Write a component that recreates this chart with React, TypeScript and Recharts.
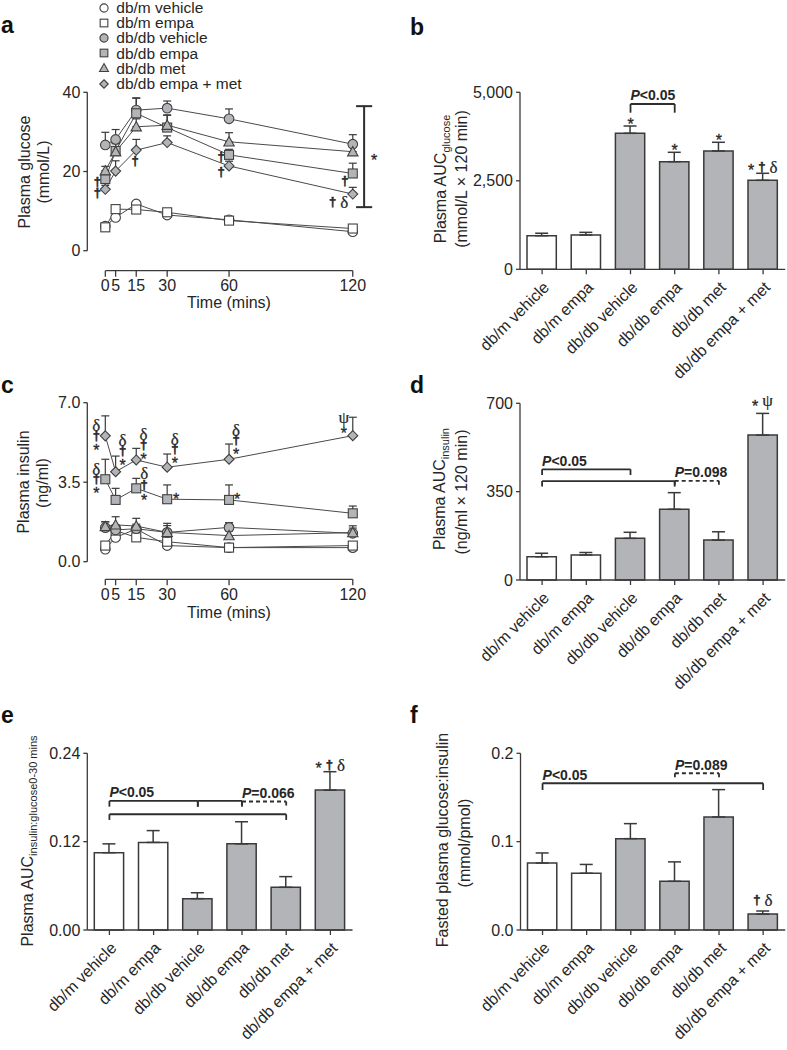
import React from 'react';
import {
  LineChart,
  Line,
  BarChart,
  Bar,
  Cell,
  XAxis,
  YAxis,
  ErrorBar,
  ReferenceLine,
  ReferenceDot,
  Legend,
} from 'recharts';

const FONT = '"Liberation Sans", Arial, Helvetica, sans-serif';
const SERIF = '"Liberation Serif", "DejaVu Serif", "Times New Roman", serif';
const INK = '#3a3a3a';
const TEXT = '#262626';
const GREY = '#b3b4b8';

// time course (panels a, c)
const times = [0, 5, 15, 30, 60, 120];

const gluDbmVeh = [6.2, 8.4, 11.8, 9.0, 7.8, 4.8];
const gluDbmEmpa = [5.9, 10.5, 10.4, 9.7, 7.6, 5.6];
const gluDbdbVeh = [26.7, 28.1, 35.5, 36.0, 33.3, 26.9];
const gluDbdbEmpa = [18.1, 25.2, 34.7, 31.1, 24.2, 19.5];
const gluDbdbMet = [20.2, 25.0, 31.3, 31.7, 27.5, 25.0];
const gluDbdbEmpaMet = [15.5, 20.1, 25.4, 27.3, 21.4, 14.3];

const gluDbmVehSem = [0.4, 0.5, 0.5, 0.4, 0.4, 0.3];
const gluDbmEmpaSem = [0.4, 0.5, 0.5, 0.5, 0.4, 0.4];
const gluDbdbVehSem = [3.2, 2.5, 3.0, 1.8, 2.5, 2.4];
const gluDbdbEmpaSem = [1.5, 2.0, 3.9, 3.2, 1.4, 2.6];
const gluDbdbMetSem = [1.1, 2.0, 2.0, 2.5, 2.3, 1.2];
const gluDbdbEmpaMetSem = [1.0, 2.6, 2.7, 1.7, 1.2, 1.7];

const insDbmVeh = [0.55, 1.07, 1.44, 0.71, 0.62, 0.62];
const insDbmEmpa = [0.71, 1.37, 1.07, 0.88, 0.62, 0.71];
const insDbdbVeh = [1.5, 1.4, 1.45, 1.29, 1.51, 1.25];
const insDbdbEmpa = [3.63, 2.72, 3.23, 2.75, 2.72, 2.13];
const insDbdbMet = [1.55, 1.62, 1.57, 1.29, 1.15, 1.28];
const insDbdbEmpaMet = [5.54, 3.96, 4.48, 4.16, 4.51, 5.55];

const insDbmVehSem = [0.08, 0.1, 0.1, 0.08, 0.05, 0.05];
const insDbmEmpaSem = [0.1, 0.15, 0.1, 0.1, 0.05, 0.05];
const insDbdbVehSem = [0.26, 0.2, 0.2, 0.4, 0.21, 0.33];
const insDbdbEmpaSem = [0.88, 0.51, 0.44, 0.63, 0.66, 0.32];
const insDbdbMetSem = [0.2, 0.36, 0.34, 0.3, 0.2, 0.2];
const insDbdbEmpaMetSem = [0.88, 0.69, 0.51, 0.58, 0.67, 0.81];

// group bars (panels b, d, e, f)
const groups = ['db/m vehicle', 'db/m empa', 'db/db vehicle', 'db/db empa', 'db/db met', 'db/db empa + met'];

const aucGlucose = [949, 969, 3842, 3040, 3342, 2514];
const aucGlucoseSem = [70, 75, 206, 265, 246, 198];
const aucInsulin = [92, 99, 165, 280, 158, 574];
const aucInsulinSem = [14, 10, 24, 66, 33, 86];
const aucRatio = [0.105, 0.119, 0.0426, 0.117, 0.058, 0.19];
const aucRatioSem = [0.012, 0.016, 0.008, 0.03, 0.0145, 0.025];
const fastedRatio = [0.0758, 0.0642, 0.1034, 0.0551, 0.1279, 0.0181];
const fastedRatioSem = [0.0114, 0.01, 0.017, 0.022, 0.031, 0.0034];

const SERIES = [
  { key: 'dbmVeh', name: 'db/m vehicle', shape: 'circle', fill: '#fff' },
  { key: 'dbmEmpa', name: 'db/m empa', shape: 'square', fill: '#fff' },
  { key: 'dbdbVeh', name: 'db/db vehicle', shape: 'circle', fill: GREY },
  { key: 'dbdbEmpa', name: 'db/db empa', shape: 'square', fill: GREY },
  { key: 'dbdbMet', name: 'db/db met', shape: 'triangle', fill: GREY },
  { key: 'dbdbEmpaMet', name: 'db/db empa + met', shape: 'diamond', fill: GREY },
];

function timeTable(means: number[][], sems: number[][]) {
  return times.map((t, i) => {
    const row: any = { t };
    SERIES.forEach((s, j) => {
      row[s.key] = means[j][i];
      row[s.key + 'Err'] = [0, sems[j][i]];
    });
    return row;
  });
}

function barTable(vals: number[], sems: number[]) {
  return groups.map((g, i) => ({ group: g, value: vals[i], err: [0, sems[i]] }));
}

const glucoseRows = timeTable(
  [gluDbmVeh, gluDbmEmpa, gluDbdbVeh, gluDbdbEmpa, gluDbdbMet, gluDbdbEmpaMet],
  [gluDbmVehSem, gluDbmEmpaSem, gluDbdbVehSem, gluDbdbEmpaSem, gluDbdbMetSem, gluDbdbEmpaMetSem]
);
const insulinRows = timeTable(
  [insDbmVeh, insDbmEmpa, insDbdbVeh, insDbdbEmpa, insDbdbMet, insDbdbEmpaMet],
  [insDbmVehSem, insDbmEmpaSem, insDbdbVehSem, insDbdbEmpaSem, insDbdbMetSem, insDbdbEmpaMetSem]
);
const rowsB = barTable(aucGlucose, aucGlucoseSem);
const rowsD = barTable(aucInsulin, aucInsulinSem);
const rowsE = barTable(aucRatio, aucRatioSem);
const rowsF = barTable(fastedRatio, fastedRatioSem);

// axis extents of the offset (GraphPad-style) time axes
const X_MIN = -8.73;
const X_MAX = 133.2;
const G_MIN = -5.05;
const I_MIN = -0.775;

const Marker = ({ cx, cy, shape, fill, k = 1 }: any) => {
  if (cx == null || cy == null) return null;
  const common = { fill, stroke: '#404040', strokeWidth: 1.1 };
  if (shape === 'circle') return <circle cx={cx} cy={cy} r={4.8 * k} {...common} />;
  if (shape === 'square') {
    const h = 4.5 * k;
    return <rect x={cx - h} y={cy - h} width={2 * h} height={2 * h} {...common} />;
  }
  if (shape === 'triangle') {
    const h = 5.2 * k;
    return <polygon points={`${cx},${cy - h} ${cx + h},${cy + h * 0.8} ${cx - h},${cy + h * 0.8}`} {...common} />;
  }
  const h = 5 * k;
  return <polygon points={`${cx},${cy - h} ${cx + h},${cy} ${cx},${cy + h} ${cx - h},${cy}`} {...common} />;
};

const GLYPH: any = {
  '*': { family: FONT, size: 16, weight: 400, lift: 0.58, w: 0.39, sw: 0.3 },
  '†': { family: FONT, size: 13, weight: 700, lift: 0.3, w: 0.556, sw: 0.5 },
  'δ': { family: SERIF, size: 17, weight: 400, lift: 0.35, w: 0.5, sw: 0.2 },
  'ψ': { family: SERIF, size: 17, weight: 400, lift: 0.24, w: 0.69, sw: 0.2 },
};

// one <text> per annotation group, one <tspan> per symbol
const Glyphs = ({ cx, cy, glyphs, dir = 'row', gap = 4 }: any) => {
  const specs = glyphs.map((g: string) => GLYPH[g]);
  const widths = specs.map((s: any) => s.w * s.size);
  const total = widths.reduce((a: number, b: number) => a + b, 0) + gap * (glyphs.length - 1);
  const mid = (glyphs.length - 1) / 2;
  let x = cx - total / 2;
  return (
    <text fill={TEXT} stroke={TEXT} textAnchor={dir === 'col' ? 'middle' : 'start'}>
      {glyphs.map((g: string, i: number) => {
        const s = specs[i];
        const px = dir === 'col' ? cx : x;
        const py = (dir === 'col' ? cy + (i - mid) * gap : cy) + s.lift * s.size;
        if (dir !== 'col') x += widths[i] + gap;
        return (
          <tspan key={i} x={px} y={py} fontFamily={s.family} fontSize={s.size} fontWeight={s.weight} strokeWidth={s.sw}>
            {g}
          </tspan>
        );
      })}
    </text>
  );
};

const mark = (id: string, x: any, y: number, glyphs: string[], dx: number, dy: number, dir = 'row', gap = 4) => (
  <ReferenceDot key={id} x={x} y={y} r={0} ifOverflow="visible"
    shape={(p: any) => <Glyphs cx={p.cx + dx} cy={p.cy + dy} glyphs={glyphs} dir={dir} gap={gap} />} />
);

const BracketLabel = (p: any) => {
  const vb = p.viewBox || p;
  const txt: string = p.text;
  return (
    <text x={vb.x} y={vb.y - 3.5} fontFamily={FONT} fontSize={14} fontWeight={700} fill={TEXT}>
      <tspan fontStyle="italic">{txt.slice(0, 1)}</tspan>
      {txt.slice(1)}
    </text>
  );
};

const bracket = (id: string, a: number, b: number, y: number, tip: number, label?: string, dashed = false) => {
  const line = { stroke: '#2e2e2e', strokeWidth: 1.8, strokeDasharray: dashed ? '4 3' : undefined, ifOverflow: 'visible' as const };
  return [
    <ReferenceLine key={id + 'h'} segment={[{ x: groups[a], y }, { x: groups[b], y }]} {...line}
      label={label ? (p: any) => <BracketLabel {...p} text={label} /> : undefined} />,
    <ReferenceLine key={id + 'l'} segment={[{ x: groups[a], y }, { x: groups[a], y: tip }]} {...line} />,
    <ReferenceLine key={id + 'r'} segment={[{ x: groups[b], y }, { x: groups[b], y: tip }]} {...line} />,
  ];
};

const RotTick = ({ x, y, payload }: any) => (
  <text x={x} y={y} dy="0.71em" transform={`rotate(-45 ${x} ${y})`} textAnchor="end"
    fill={TEXT} fontSize={16} fontFamily={FONT}>{payload.value}</text>
);

const tickStyle = { fill: TEXT, fontSize: 16, fontFamily: FONT };
const axisLine = { stroke: INK, strokeWidth: 1.3 };

const SeriesLegend = () => (
  <div style={{ fontFamily: FONT, fontSize: 15.5, color: TEXT }}>
    {SERIES.map((s) => (
      <div key={s.key} style={{ display: 'flex', alignItems: 'center', height: 15.2 }}>
        <svg width={16} height={14}>
          <Marker cx={7} cy={7} shape={s.shape} fill={s.fill} k={0.85} />
        </svg>
        <span style={{ marginLeft: 3, lineHeight: '15px' }}>{s.name}</span>
      </div>
    ))}
  </div>
);

const VLabel = ({ x, y, children }: any) => (
  <div style={{
    position: 'absolute', left: x, top: y, transform: 'translate(-50%, -50%) rotate(-90deg)',
    whiteSpace: 'nowrap', fontFamily: FONT, fontSize: 16, color: TEXT, lineHeight: '16px',
  }}>{children}</div>
);

const HLabel = ({ x, y, children }: any) => (
  <div style={{
    position: 'absolute', left: x, top: y, transform: 'translate(-50%, -50%)',
    whiteSpace: 'nowrap', fontFamily: FONT, fontSize: 16, color: TEXT, lineHeight: '16px',
  }}>{children}</div>
);

const Letter = ({ x, y, children }: any) => (
  <div style={{ position: 'absolute', left: x, top: y, fontFamily: FONT, fontWeight: 700, fontSize: 23, lineHeight: '22px', color: '#111' }}>
    {children}
  </div>
);

const Sub = ({ children }: any) => (
  <span style={{ fontSize: 11, position: 'relative', top: 4 }}>{children}</span>
);

const timeLines = () =>
  SERIES.map((s) => (
    <Line key={s.key} dataKey={s.key} name={s.name} stroke="#4a4a4a" strokeWidth={1} isAnimationActive={false}
      activeDot={false}
      dot={(p: any) => <Marker key={`${s.key}-${p.index}`} cx={p.cx} cy={p.cy} shape={s.shape} fill={s.fill} />}>
      <ErrorBar dataKey={s.key + 'Err'} width={4} stroke={INK} strokeWidth={1.2} direction="y" isAnimationActive={false} />
    </Line>
  ));

const timeAxes = (yMin: number, yMax: number, yTicks: number[], fmt: (v: number) => string, xHeight: number) => [
  <XAxis key="x" dataKey="t" type="number" domain={[X_MIN, X_MAX]} ticks={times} interval={0} allowDataOverflow
    axisLine={false} tickLine={axisLine} tickSize={6} tickMargin={3} height={xHeight} tick={tickStyle} />,
  <YAxis key="y" type="number" domain={[yMin, yMax]} ticks={yTicks} interval={0} allowDataOverflow width={87.3}
    axisLine={false} tickLine={axisLine} tickSize={4} tickMargin={3} tick={tickStyle} tickFormatter={fmt} />,
  <ReferenceLine key="ya" segment={[{ x: X_MIN, y: 0 }, { x: X_MIN, y: yMax }]} stroke={INK} strokeWidth={1.3} ifOverflow="visible" />,
  <ReferenceLine key="xa" segment={[{ x: 0, y: yMin }, { x: 120, y: yMin }]} stroke={INK} strokeWidth={1.3} ifOverflow="visible" />,
];

const barSeries = (rows: any[]) => (
  <Bar dataKey="value" barSize={29.3} stroke={INK} strokeWidth={1.5} isAnimationActive={false}>
    {rows.map((r, i) => <Cell key={r.group} fill={i < 2 ? '#ffffff' : GREY} />)}
    <ErrorBar dataKey="err" width={6.5} stroke={INK} strokeWidth={1.5} direction="y" isAnimationActive={false} />
  </Bar>
);

const barAxes = (yMax: number, fmt: (v: number) => string, yWidth: number, xHeight: number) => [
  <XAxis key="x" dataKey="group" type="category" interval={0} height={xHeight} axisLine={axisLine}
    tickLine={axisLine} tickSize={5} tickMargin={6} tick={<RotTick />} />,
  <YAxis key="y" type="number" domain={[0, yMax]} ticks={[0, yMax / 2, yMax]} interval={0} width={yWidth}
    axisLine={axisLine} tickLine={axisLine} tickSize={4} tickMargin={3} tick={tickStyle} tickFormatter={fmt} />,
];

const topOf = (rows: any[], i: number) => rows[i].value + rows[i].err[1];

export default function App() {
  return (
    <div style={{ position: 'absolute', left: 0, top: 0, width: 787, height: 1050, background: '#fff', overflow: 'hidden' }}>
      {/* a */}
      <div style={{ position: 'absolute', left: 0, top: 0 }}>
        <LineChart width={390} height={320} data={glucoseRows} margin={{ top: 92.3, right: 390 - 380, bottom: 0, left: 0 }}>
          {timeAxes(G_MIN, 40, [0, 20, 40], (v) => String(v), 320 - 270.7)}
          {timeLines()}
          <Legend layout="vertical" align="center" verticalAlign="middle" content={() => <SeriesLegend />}
            wrapperStyle={{ top: 0, left: 97.3, width: 180, height: 95 }} />
          {mark('a1', 0, gluDbdbEmpa[0], ['†'], -8, 3)}
          {mark('a2', 0, gluDbdbEmpaMet[0], ['†'], -8, 3.4)}
          {mark('a3', 15, gluDbdbEmpaMet[2], ['†'], -1, 11)}
          {mark('a4', 60, gluDbdbEmpa[4], ['†'], -8, 2)}
          {mark('a5', 60, gluDbdbEmpaMet[4], ['†'], -8, 6)}
          {mark('a6', 120, gluDbdbEmpa[5], ['†'], -8, 8)}
          {mark('a7', 120, gluDbdbEmpaMet[5], ['†', 'δ'], -14, 8)}
          <ReferenceLine segment={[{ x: 125.5, y: 11.0 }, { x: 125.5, y: 36.5 }]} stroke="#2e2e2e" strokeWidth={2} ifOverflow="visible" />
          <ReferenceLine segment={[{ x: 121.6, y: 36.5 }, { x: 129.4, y: 36.5 }]} stroke="#2e2e2e" strokeWidth={2} ifOverflow="visible" />
          <ReferenceLine segment={[{ x: 121.6, y: 11.0 }, { x: 129.4, y: 11.0 }]} stroke="#2e2e2e" strokeWidth={2} ifOverflow="visible" />
          {mark('a8', 125.5, 23.7, ['*'], 10, 0)}
        </LineChart>
      </div>

      {/* b */}
      <div style={{ position: 'absolute', left: 390, top: 0 }}>
        <BarChart width={397} height={400} data={rowsB} margin={{ top: 92.3, right: 1.8, bottom: 0, left: 0 }}>
          {barAxes(5000, (v) => v.toLocaleString('en-US'), 130, 400 - 269.3)}
          {barSeries(rowsB)}
          {bracket('b1', 2, 3, 4670, 4424, 'P<0.05')}
          {mark('b2', groups[2], topOf(rowsB, 2), ['*'], 0, -5.5)}
          {mark('b3', groups[3], topOf(rowsB, 3), ['*'], 0, -5.5)}
          {mark('b4', groups[4], topOf(rowsB, 4), ['*'], 0, -5.5)}
          {mark('b5', groups[5], topOf(rowsB, 5), ['*', '†', 'δ'], 0, -6.6)}
        </BarChart>
      </div>

      {/* c */}
      <div style={{ position: 'absolute', left: 0, top: 340 }}>
        <LineChart width={390} height={290} data={insulinRows} margin={{ top: 62.7, right: 390 - 380, bottom: 0, left: 0 }}>
          {timeAxes(I_MIN, 7, [0, 3.5, 7], (v) => v.toFixed(1), 290 - 239.3)}
          {timeLines()}
          {mark('c1', 0, insDbdbEmpaMet[0], ['δ', '†', '*'], -9, 0, 'col', 10.5)}
          {mark('c2', 5, insDbdbEmpaMet[1], ['δ', '†', '*'], 7, -21, 'col', 10.5)}
          {mark('c3', 15, insDbdbEmpaMet[2], ['δ', '†', '*'], 7.3, -15, 'col', 10.5)}
          {mark('c4', 30, insDbdbEmpaMet[3], ['δ', '†', '*'], 7.7, -18, 'col', 10.5)}
          {mark('c5', 60, insDbdbEmpaMet[4], ['δ', '†', '*'], 7, -19, 'col', 10.5)}
          {mark('c6', 120, insDbdbEmpaMet[5], ['ψ', '*'], -9, -11.5, 'col', 11)}
          {mark('c7', 0, insDbdbEmpa[0], ['δ', '†', '*'], -9, 0, 'col', 10.5)}
          {mark('c8', 15, insDbdbEmpa[2], ['δ', '†', '*'], 8, -3.5, 'col', 12)}
          {mark('c9', 30, insDbdbEmpa[3], ['*'], 9, -4)}
          {mark('c10', 60, insDbdbEmpa[4], ['*'], 8, -4)}
        </LineChart>
      </div>

      {/* d */}
      <div style={{ position: 'absolute', left: 390, top: 340 }}>
        <BarChart width={397} height={400} data={rowsD} margin={{ top: 63.3, right: 1.8, bottom: 0, left: 0 }}>
          {barAxes(700, (v) => String(v), 130, 400 - 240)}
          {barSeries(rowsD)}
          {bracket('d1', 0, 2, 438.6, 416, 'P<0.05')}
          {bracket('d2', 0, 3, 392, 370)}
          {bracket('d3', 3, 4, 393, 370, 'P=0.098', true)}
          {mark('d4', groups[5], topOf(rowsD, 5), ['*', 'ψ'], 0, -11)}
        </BarChart>
      </div>

      {/* e */}
      <div style={{ position: 'absolute', left: 0, top: 680 }}>
        <BarChart width={390} height={370} data={rowsE} margin={{ top: 73.3, right: 37.5, bottom: 0, left: 0 }}>
          {barAxes(0.24, (v) => v.toFixed(2), 87.3, 370 - 250)}
          {barSeries(rowsE)}
          {bracket('e1', 0, 2, 0.1753, 0.1675, 'P<0.05')}
          {bracket('e2', 2, 3, 0.1753, 0.1675)}
          {bracket('e3', 3, 4, 0.1745, 0.1675, 'P=0.066', true)}
          {bracket('e4', 0, 4, 0.1572, 0.1495)}
          {mark('e5', groups[5], topOf(rowsE, 5), ['*', '†', 'δ'], 0, -6.7)}
        </BarChart>
      </div>

      {/* f */}
      <div style={{ position: 'absolute', left: 390, top: 680 }}>
        <BarChart width={397} height={370} data={rowsF} margin={{ top: 73.3, right: 1.8, bottom: 0, left: 0 }}>
          {barAxes(0.2, (v) => v.toFixed(1), 130.5, 370 - 250)}
          {barSeries(rowsF)}
          {bracket('f1', 0, 5, 0.1661, 0.1585, 'P<0.05')}
          {bracket('f2', 3, 4, 0.1774, 0.1706, 'P=0.089', true)}
          {mark('f3', groups[5], topOf(rowsF, 5), ['†', 'δ'], 0, -11)}
        </BarChart>
      </div>

      {/* panel letters */}
      <Letter x={1} y={14.4}>a</Letter>
      <Letter x={410} y={16.4}>b</Letter>
      <Letter x={1} y={374.4}>c</Letter>
      <Letter x={410} y={374.4}>d</Letter>
      <Letter x={1} y={704.4}>e</Letter>
      <Letter x={410} y={704.4}>f</Letter>

      {/* axis titles */}
      <VLabel x={25} y={172}>Plasma glucose</VLabel>
      <VLabel x={44} y={172}>(mmol/L)</VLabel>
      <HLabel x={229} y={303}>Time (mins)</HLabel>

      <VLabel x={441} y={179}>Plasma AUC<Sub>glucose</Sub></VLabel>
      <VLabel x={462} y={179}>(mmol/L × 120 min)</VLabel>

      <VLabel x={24} y={482}>Plasma insulin</VLabel>
      <VLabel x={43} y={483}>(ng/ml)</VLabel>
      <HLabel x={229} y={613}>Time (mins)</HLabel>

      <VLabel x={440} y={489}>Plasma AUC<Sub>insulin</Sub></VLabel>
      <VLabel x={462} y={491.5}>(ng/ml × 120 min)</VLabel>

      <VLabel x={28} y={841}>Plasma AUC<Sub>insulin:glucose0-30 mins</Sub></VLabel>

      <VLabel x={443.3} y={840}>Fasted plasma glucose:insulin</VLabel>
      <VLabel x={465} y={842.5}>(mmol/pmol)</VLabel>
    </div>
  );
}
